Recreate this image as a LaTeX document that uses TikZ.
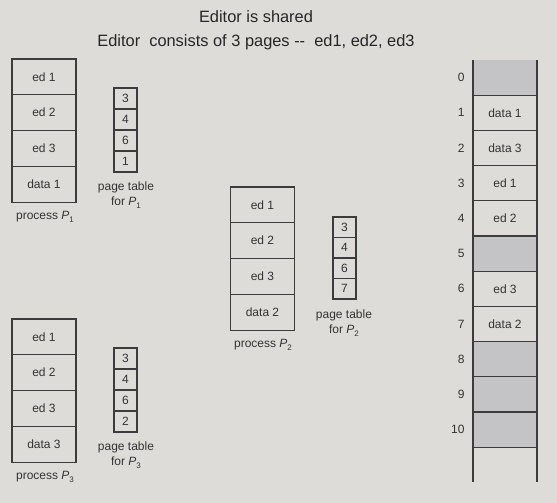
\documentclass[tikz,border=0pt]{standalone}
\usepackage{fontspec}
\setmainfont{Liberation Sans}
\usetikzlibrary{positioning}
\definecolor{bgcol}{HTML}{DDDCD8}
\definecolor{shade}{HTML}{C4C4C6}
\definecolor{edge}{HTML}{3C3C3C}
\newcommand{\procsub}[1]{\textit{P}\raisebox{-0.45ex}{\fontsize{8}{9}\selectfont #1}}
\tikzset{
  cell/.style={draw=edge, line width=1.2pt, minimum width=64pt, minimum height=35.8pt,
    inner sep=0pt, outer sep=0pt, font=\fontsize{12}{13}\selectfont, text=black!80},
  ptcell/.style={cell, minimum width=23pt, minimum height=21pt},
  memcell/.style={cell, minimum height=35.2pt},
  free/.style={memcell, fill=shade},
  caption/.style={font=\fontsize{12}{15}\selectfont, align=center, text=black!80},
  frameno/.style={anchor=east, font=\fontsize{12}{13}\selectfont, text=black!80}
}
\begin{document}
\begin{tikzpicture}[x=1pt, y=-1pt]
  \fill[bgcol] (0,0) rectangle (557,503);
  \useasboundingbox (0,0) rectangle (557,503);
  \node[font=\fontsize{16.4}{24}\selectfont, align=center, text=black!85] (title) at (256,30)
    {Editor is shared\\Editor\ \ consists of 3 pages -{}-\ \ ed1, ed2, ed3};

  % process P1 and its page table
  \node[cell, anchor=north] (pa1) at (44,59) {ed 1};
  \node[cell, below=0pt of pa1] (pa2) {ed 2};
  \node[cell, below=0pt of pa2] (pa3) {ed 3};
  \node[cell, below=0pt of pa3] (pa4) {data 1};
  \node[caption] (pacap) at (45,217) {process \procsub{1}};
  \node[ptcell, anchor=north] (ta1) at (125.5,88) {3};
  \node[ptcell, below=0pt of ta1] (ta2) {4};
  \node[ptcell, below=0pt of ta2] (ta3) {6};
  \node[ptcell, below=0pt of ta3] (ta4) {1};
  \node[caption] (tacap) at (126,195) {page table\\for \procsub{1}};

  % process P2 and its page table
  \node[cell, anchor=north] (pb1) at (262.5,187) {ed 1};
  \node[cell, below=0pt of pb1] (pb2) {ed 2};
  \node[cell, below=0pt of pb2] (pb3) {ed 3};
  \node[cell, below=0pt of pb3] (pb4) {data 2};
  \node[caption] (pbcap) at (263,345) {process \procsub{2}};
  \node[ptcell, anchor=north, minimum height=20.5pt] (tb1) at (344.5,217) {3};
  \node[ptcell, below=0pt of tb1, minimum height=20.5pt] (tb2) {4};
  \node[ptcell, below=0pt of tb2, minimum height=20.5pt] (tb3) {6};
  \node[ptcell, below=0pt of tb3, minimum height=20.5pt] (tb4) {7};
  \node[caption] (tbcap) at (344,323) {page table\\for \procsub{2}};

  % process P3 and its page table
  \node[cell, anchor=north] (pc1) at (44,319) {ed 1};
  \node[cell, below=0pt of pc1] (pc2) {ed 2};
  \node[cell, below=0pt of pc2] (pc3) {ed 3};
  \node[cell, below=0pt of pc3] (pc4) {data 3};
  \node[caption] (pccap) at (45,477) {process \procsub{3}};
  \node[ptcell, anchor=north] (tc1) at (125.5,348) {3};
  \node[ptcell, below=0pt of tc1] (tc2) {4};
  \node[ptcell, below=0pt of tc2] (tc3) {6};
  \node[ptcell, below=0pt of tc3] (tc4) {2};
  \node[caption] (tccap) at (126,455) {page table\\for \procsub{3}};

  % physical memory
  \foreach \i/\txt/\sty in {0//free, 1/data 1/memcell, 2/data 3/memcell, 3/ed 1/memcell,
      4/ed 2/memcell, 5//free, 6/ed 3/memcell, 7/data 2/memcell, 8//free, 9//free, 10//free} {
    \node[\sty, draw=none] (m\i) at (505,{60+35.2*\i+17.6}) {\txt};
    \node[frameno] (n\i) at (468,{60+35.2*\i+17.6}) {\i};
  }
  \foreach \i in {1,...,10}
    \draw[edge, line width=1.2pt] (m\i.north west) -- (m\i.north east);
  \draw[edge, line width=1.2pt] (m10.south west) -- (m10.south east);
  \coordinate (memend) at (505,482);
  \draw[edge, line width=1.2pt] (m0.north west) -- (m0.north west |- memend);
  \draw[edge, line width=1.2pt] (m0.north east) -- (m0.north east |- memend);
\end{tikzpicture}
\end{document}
